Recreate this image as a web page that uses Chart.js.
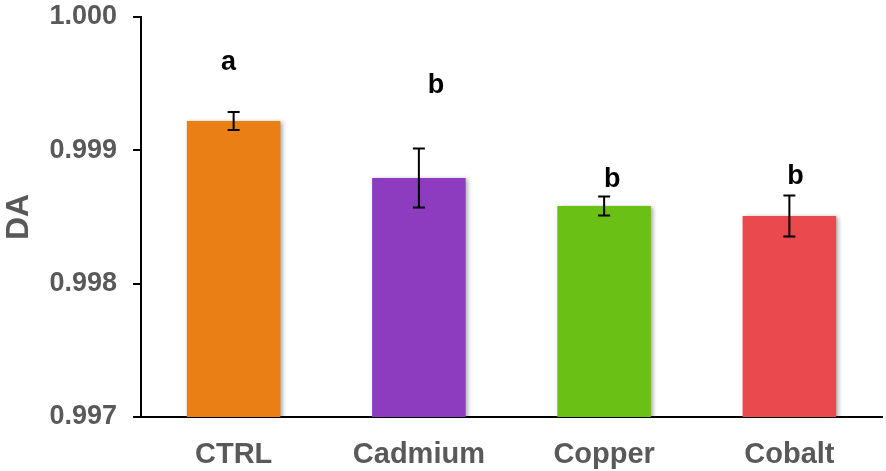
<!DOCTYPE html>
<html>
<head>
<meta charset="utf-8">
<script src="https://cdn.jsdelivr.net/npm/chart.js@4.4.0/dist/chart.umd.min.js"></script>
<style>
  html, body { margin: 0; padding: 0; background: #fff; }
  #wrap { width: 886px; height: 471px; }
</style>
</head>
<body>
<div id="wrap"><canvas id="chart"></canvas></div>
<script>
// Data
var categories = ['CTRL', 'Cadmium', 'Copper', 'Cobalt'];
var meanDA = [0.99922, 0.998792, 0.998582, 0.998507];
var errDA = [0.0000675, 0.000221, 0.0000713, 0.000154];
var letters = ['a', 'b', 'b', 'b'];
var letterLevels = [0.999603, 0.999432, 0.998727, 0.998745];
var yTicks = [0.997, 0.998, 0.999, 1.000];

var barColors = ['#EA8015', '#8E3CBF', '#6BC015', '#EA4A4E'];
var grey = '#595959';

/**
 * Bar shadow, error bars and significance letters
 */
var extras = {
    id: 'extras',
    beforeDatasetsDraw: function (chart) {
        var ctx = chart.ctx;
        ctx.save();
        ctx.shadowColor = 'rgba(0,0,0,0.35)';
        ctx.shadowBlur = 4;
        ctx.shadowOffsetX = 2;
        ctx.shadowOffsetY = 1;
    },
    afterDatasetsDraw: function (chart, args, opts) {
        var ctx = chart.ctx;
        ctx.restore();
        var y = chart.scales.y;
        var meta = chart.getDatasetMeta(0);

        ctx.save();
        ctx.strokeStyle = '#000';
        ctx.lineWidth = 2;
        meta.data.forEach(function (bar, i) {
            var top = y.getPixelForValue(meanDA[i] + errDA[i]);
            var bot = y.getPixelForValue(meanDA[i] - errDA[i]);
            var x = bar.x;
            ctx.beginPath();
            ctx.moveTo(x, top); ctx.lineTo(x, bot);
            ctx.moveTo(x - 6, top); ctx.lineTo(x + 6, top);
            ctx.moveTo(x - 6, bot); ctx.lineTo(x + 6, bot);
            ctx.stroke();
        });

        // Letters
        ctx.fillStyle = '#000';
        ctx.font = 'bold 27px "Liberation Sans", Arial, sans-serif';
        ctx.textAlign = 'center';
        ctx.textBaseline = 'alphabetic';
        meta.data.forEach(function (bar, i) {
            ctx.fillText(letters[i], bar.x + opts.shift[i], y.getPixelForValue(letterLevels[i]));
        });
        ctx.restore();
    }
};

new Chart(document.getElementById('chart').getContext('2d'), {
    type: 'bar',
    data: {
        labels: categories,
        datasets: [
            {
                data: meanDA,
                backgroundColor: barColors,
                borderWidth: 0,
                categoryPercentage: 1,
                barPercentage: 0.505
            }
        ]
    },
    options: {
        responsive: true,
        maintainAspectRatio: false,
        animation: false,
        layout: { padding: { left: 0, right: 4, top: 17, bottom: 0 } },
        plugins: {
            legend: { display: false },
            tooltip: { enabled: false },
            extras: { shift: [-5, 17, 8, 6] }
        },
        scales: {
            x: {
                grid: { display: false, drawTicks: false },
                border: { display: true, color: '#000', width: 2 },
                ticks: {
                    color: grey,
                    padding: 21,
                    font: { family: '"Liberation Sans", Arial, sans-serif', size: 29, weight: 'bold' }
                },
                afterFit: function (scale) { scale.height = 54; }
            },
            y: {
                min: 0.997,
                max: 1.000,
                afterBuildTicks: function (scale) {
                    scale.ticks = yTicks.map(function (v) { return { value: v }; });
                },
                grid: { display: true, drawOnChartArea: false, drawTicks: true, tickLength: 8, color: '#000', lineWidth: 2 },
                border: { display: true, color: '#000', width: 2 },
                ticks: {
                    color: grey,
                    padding: 16,
                    font: { family: '"Liberation Sans", Arial, sans-serif', size: 27, weight: 'bold' },
                    callback: function (v) { return Number(v).toFixed(3); }
                },
                title: {
                    display: true,
                    text: 'DA',
                    color: grey,
                    padding: 0,
                    font: { family: '"Liberation Sans", Arial, sans-serif', size: 32, weight: 'bold' }
                },
                afterFit: function (scale) {
                    scale.width = 141;
                    scale.paddingTop = 0;
                    scale.paddingBottom = 0;
                }
            }
        }
    },
    plugins: [extras]
});
</script>
</body>
</html>
